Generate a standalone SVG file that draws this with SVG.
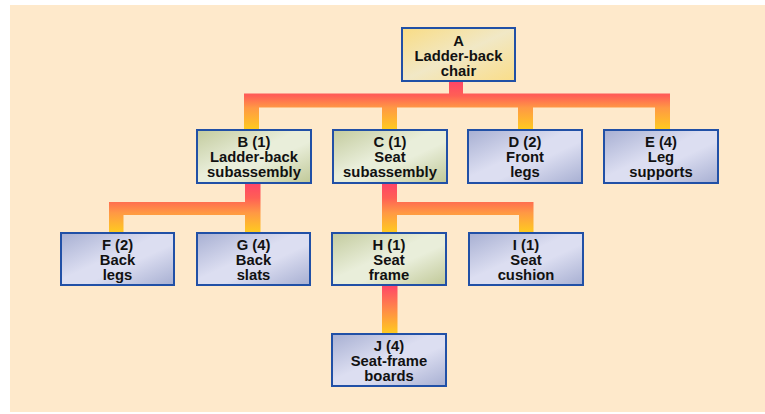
<svg xmlns="http://www.w3.org/2000/svg" width="765" height="414" viewBox="0 0 765 414">
<defs>
<style>
.box{stroke:#2150A6;stroke-width:2}
.blue{fill:url(#gBlue)}
.green{fill:url(#gGreen)}
.yellow{fill:url(#gYellow)}
text{font-family:"Liberation Sans",Arial,Helvetica,sans-serif;font-weight:bold;font-size:14.8px;fill:#111;text-anchor:middle}
</style>
<linearGradient id="gBlue" x1="0" y1="0" x2="1" y2="1">
<stop offset="0" stop-color="#A7AFD2"/>
<stop offset="0.45" stop-color="#DCDEF1"/>
<stop offset="0.6" stop-color="#DCDEF1"/>
<stop offset="1" stop-color="#A7AFD2"/>
</linearGradient>
<linearGradient id="gGreen" x1="0" y1="0" x2="1" y2="1">
<stop offset="0" stop-color="#C3CB9E"/>
<stop offset="0.45" stop-color="#E9EEDA"/>
<stop offset="0.6" stop-color="#E9EEDA"/>
<stop offset="1" stop-color="#C0C897"/>
</linearGradient>
<linearGradient id="gYellow" x1="0" y1="0" x2="1" y2="1">
<stop offset="0" stop-color="#F9DC84"/>
<stop offset="0.5" stop-color="#F1E8C6"/>
<stop offset="1" stop-color="#FADD88"/>
</linearGradient>
<linearGradient id="cA" gradientUnits="userSpaceOnUse" x1="0" y1="81" x2="0" y2="130">
<stop offset="0" stop-color="#FF4468"/>
<stop offset="0.3" stop-color="#FF5F55"/>
<stop offset="0.55" stop-color="#FF9944"/>
<stop offset="1" stop-color="#FFCC1E"/>
</linearGradient>
<linearGradient id="cB" gradientUnits="userSpaceOnUse" x1="0" y1="183" x2="0" y2="233">
<stop offset="0" stop-color="#FF4468"/>
<stop offset="0.3" stop-color="#FF5F55"/>
<stop offset="0.6" stop-color="#FF9944"/>
<stop offset="1" stop-color="#FFCC1E"/>
</linearGradient>
<linearGradient id="cH" gradientUnits="userSpaceOnUse" x1="0" y1="285" x2="0" y2="334">
<stop offset="0" stop-color="#FF4468"/>
<stop offset="0.5" stop-color="#FF8A48"/>
<stop offset="1" stop-color="#FFCC1E"/>
</linearGradient>
</defs>
<rect x="10" y="5" width="755" height="407" fill="#FEE9CB"/>
<g id="connectors">
<path fill="url(#cA)" d="M449,81 H463 V93.5 H670 V130 H655 V107.5 H533 V130 H518 V107.5 H397 V130 H382 V107.5 H259 V130 H244 V93.5 H449 Z"/>
<path fill="url(#cB)" d="M245,183 H260.5 V233 H245 V215 H123.5 V233 H109 V202 H245 Z"/>
<path fill="url(#cB)" d="M382,183 H397 V202 H533.5 V233 H519 V215 H397 V233 H382 Z"/>
<rect x="382" y="285" width="15.5" height="49" fill="url(#cH)"/>
</g>
<g id="nodeA"><rect class="box yellow" x="402" y="28" width="113" height="53"/><text x="458.5" y="45.5">A</text><text x="458.5" y="60.5">Ladder-back</text><text x="458.5" y="75.5">chair</text></g>
<g id="nodeB"><rect class="box green" x="197" y="130" width="114" height="53"/><text x="254" y="147">B (1)</text><text x="254" y="162">Ladder-back</text><text x="254" y="177">subassembly</text></g>
<g id="nodeC"><rect class="box green" x="333" y="130" width="114" height="53"/><text x="390" y="147">C (1)</text><text x="390" y="162">Seat</text><text x="390" y="177">subassembly</text></g>
<g id="nodeD"><rect class="box blue" x="468" y="130" width="114" height="53"/><text x="525" y="147">D (2)</text><text x="525" y="162">Front</text><text x="525" y="177">legs</text></g>
<g id="nodeE"><rect class="box blue" x="604" y="130" width="114" height="53"/><text x="661" y="147">E (4)</text><text x="661" y="162">Leg</text><text x="661" y="177">supports</text></g>
<g id="nodeF"><rect class="box blue" x="61" y="233" width="113" height="52"/><text x="117.5" y="249.5">F (2)</text><text x="117.5" y="264.5">Back</text><text x="117.5" y="279.5">legs</text></g>
<g id="nodeG"><rect class="box blue" x="197" y="233" width="113" height="52"/><text x="253.5" y="249.5">G (4)</text><text x="253.5" y="264.5">Back</text><text x="253.5" y="279.5">slats</text></g>
<g id="nodeH"><rect class="box green" x="332" y="233" width="114" height="52"/><text x="389" y="249.5">H (1)</text><text x="389" y="264.5">Seat</text><text x="389" y="279.5">frame</text></g>
<g id="nodeI"><rect class="box blue" x="469" y="233" width="114" height="52"/><text x="526" y="249.5">I (1)</text><text x="526" y="264.5">Seat</text><text x="526" y="279.5">cushion</text></g>
<g id="nodeJ"><rect class="box blue" x="332" y="334" width="114" height="52"/><text x="389" y="350.5">J (4)</text><text x="389" y="365.5">Seat-frame</text><text x="389" y="380.5">boards</text></g>
</svg>
